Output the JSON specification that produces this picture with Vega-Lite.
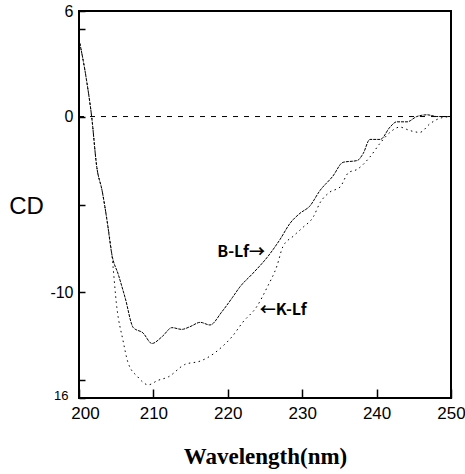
{
  "$schema": "https://vega.github.io/schema/vega-lite/v6.json",
  "autosize": "none",
  "width": 372,
  "height": 387,
  "padding": {"left": 79, "top": 11, "right": 14, "bottom": 76},
  "background": "white",
  "config": {"view": {"stroke": "black", "strokeWidth": 2}},
  "datasets": {
    "curves": [
      {"wl": 200.0, "cd": 4.4, "s": "B-Lf"}, {"wl": 201.0, "cd": 2.1, "s": "B-Lf"}, {"wl": 201.7, "cd": 0.0, "s": "B-Lf"},
      {"wl": 202.4, "cd": -2.9, "s": "B-Lf"}, {"wl": 203.1, "cd": -4.2, "s": "B-Lf"}, {"wl": 203.8, "cd": -6.0, "s": "B-Lf"},
      {"wl": 204.4, "cd": -7.8, "s": "B-Lf"}, {"wl": 205.3, "cd": -9.0, "s": "B-Lf"}, {"wl": 206.2, "cd": -10.3, "s": "B-Lf"},
      {"wl": 207.3, "cd": -12.0, "s": "B-Lf"}, {"wl": 208.6, "cd": -12.3, "s": "B-Lf"}, {"wl": 209.8, "cd": -12.9, "s": "B-Lf"},
      {"wl": 211.2, "cd": -12.5, "s": "B-Lf"}, {"wl": 212.5, "cd": -12.0, "s": "B-Lf"}, {"wl": 213.8, "cd": -12.1, "s": "B-Lf"},
      {"wl": 214.9, "cd": -11.95, "s": "B-Lf"}, {"wl": 216.3, "cd": -11.7, "s": "B-Lf"}, {"wl": 217.6, "cd": -11.85, "s": "B-Lf"},
      {"wl": 219.2, "cd": -11.1, "s": "B-Lf"}, {"wl": 220.6, "cd": -10.3, "s": "B-Lf"}, {"wl": 221.6, "cd": -9.7, "s": "B-Lf"},
      {"wl": 223.4, "cd": -8.9, "s": "B-Lf"}, {"wl": 225.3, "cd": -8.0, "s": "B-Lf"}, {"wl": 227.0, "cd": -7.0, "s": "B-Lf"},
      {"wl": 228.4, "cd": -6.05, "s": "B-Lf"}, {"wl": 229.7, "cd": -5.5, "s": "B-Lf"}, {"wl": 231.0, "cd": -5.1, "s": "B-Lf"},
      {"wl": 232.4, "cd": -4.2, "s": "B-Lf"}, {"wl": 234.1, "cd": -3.4, "s": "B-Lf"}, {"wl": 235.5, "cd": -2.6, "s": "B-Lf"},
      {"wl": 237.4, "cd": -2.5, "s": "B-Lf"}, {"wl": 238.2, "cd": -2.1, "s": "B-Lf"}, {"wl": 239.1, "cd": -1.3, "s": "B-Lf"},
      {"wl": 240.5, "cd": -1.3, "s": "B-Lf"}, {"wl": 241.8, "cd": -0.6, "s": "B-Lf"}, {"wl": 242.7, "cd": -0.3, "s": "B-Lf"},
      {"wl": 244.1, "cd": -0.3, "s": "B-Lf"}, {"wl": 245.4, "cd": 0.0, "s": "B-Lf"}, {"wl": 246.8, "cd": 0.1, "s": "B-Lf"},
      {"wl": 248.1, "cd": 0.0, "s": "B-Lf"}, {"wl": 250.0, "cd": 0.0, "s": "B-Lf"},
      {"wl": 200.0, "cd": 4.4, "s": "K-Lf"}, {"wl": 201.0, "cd": 2.1, "s": "K-Lf"}, {"wl": 201.7, "cd": 0.0, "s": "K-Lf"},
      {"wl": 202.4, "cd": -2.9, "s": "K-Lf"}, {"wl": 203.1, "cd": -4.2, "s": "K-Lf"}, {"wl": 203.8, "cd": -6.0, "s": "K-Lf"},
      {"wl": 204.4, "cd": -7.8, "s": "K-Lf"}, {"wl": 205.1, "cd": -10.9, "s": "K-Lf"}, {"wl": 205.9, "cd": -12.7, "s": "K-Lf"},
      {"wl": 206.6, "cd": -14.0, "s": "K-Lf"}, {"wl": 207.9, "cd": -14.8, "s": "K-Lf"}, {"wl": 209.3, "cd": -15.25, "s": "K-Lf"},
      {"wl": 210.6, "cd": -15.0, "s": "K-Lf"}, {"wl": 212.0, "cd": -14.8, "s": "K-Lf"}, {"wl": 214.2, "cd": -14.1, "s": "K-Lf"},
      {"wl": 216.3, "cd": -13.9, "s": "K-Lf"}, {"wl": 217.3, "cd": -13.7, "s": "K-Lf"}, {"wl": 219.2, "cd": -13.1, "s": "K-Lf"},
      {"wl": 220.6, "cd": -12.5, "s": "K-Lf"}, {"wl": 222.0, "cd": -11.7, "s": "K-Lf"}, {"wl": 223.9, "cd": -10.8, "s": "K-Lf"},
      {"wl": 225.3, "cd": -9.7, "s": "K-Lf"}, {"wl": 226.6, "cd": -8.5, "s": "K-Lf"}, {"wl": 227.4, "cd": -7.4, "s": "K-Lf"},
      {"wl": 228.8, "cd": -6.8, "s": "K-Lf"}, {"wl": 230.1, "cd": -6.3, "s": "K-Lf"}, {"wl": 231.5, "cd": -5.7, "s": "K-Lf"},
      {"wl": 232.4, "cd": -4.9, "s": "K-Lf"}, {"wl": 233.7, "cd": -4.3, "s": "K-Lf"}, {"wl": 235.1, "cd": -4.0, "s": "K-Lf"},
      {"wl": 236.2, "cd": -3.2, "s": "K-Lf"}, {"wl": 237.4, "cd": -3.0, "s": "K-Lf"}, {"wl": 239.1, "cd": -2.3, "s": "K-Lf"},
      {"wl": 240.5, "cd": -1.5, "s": "K-Lf"}, {"wl": 241.8, "cd": -0.9, "s": "K-Lf"}, {"wl": 243.1, "cd": -0.6, "s": "K-Lf"},
      {"wl": 244.5, "cd": -0.8, "s": "K-Lf"}, {"wl": 245.8, "cd": -0.9, "s": "K-Lf"}, {"wl": 247.2, "cd": -0.4, "s": "K-Lf"},
      {"wl": 248.5, "cd": -0.1, "s": "K-Lf"}, {"wl": 250.0, "cd": 0.0, "s": "K-Lf"}
    ],
    "zero": [{"wl": 200, "wl2": 250, "cd": 0}],
    "labels": [
      {"wl": 225.0, "cd": -7.7, "t": "B-Lf→", "a": "right"},
      {"wl": 224.3, "cd": -11.0, "t": "←K-Lf", "a": "left"}
    ]
  },
  "layer": [
    {
      "data": {"name": "zero"},
      "mark": {"type": "rule", "strokeDash": [5, 6], "color": "black", "strokeWidth": 1},
      "encoding": {
        "x": {"field": "wl", "type": "quantitative"},
        "x2": {"field": "wl2"},
        "y": {"field": "cd", "type": "quantitative"}
      }
    },
    {
      "data": {"name": "curves"},
      "mark": {"type": "line", "color": "black", "strokeWidth": 1, "interpolate": "monotone"},
      "encoding": {
        "x": {
          "field": "wl", "type": "quantitative",
          "scale": {"domain": [200, 250], "nice": false, "zero": false},
          "axis": {
            "title": "Wavelength(nm)", "titleFont": "Liberation Serif", "titleFontSize": 23, "titleFontWeight": "bold",
            "titleColor": "black", "titlePadding": 24,
            "values": [200, 210, 220, 230, 240, 250], "domain": false, "grid": false,
            "tickSize": -9, "tickColor": "black", "tickWidth": 1.5,
            "labelFont": "Liberation Sans", "labelFontSize": 17, "labelColor": "black", "labelPadding": 16,
            "labelOffset": {"condition": {"test": "datum.value == 200", "value": 6}, "value": 0},
            "labelFlush": false
          }
        },
        "y": {
          "field": "cd", "type": "quantitative",
          "scale": {"domain": [-16, 6], "nice": false, "zero": false},
          "axis": {
            "title": "CD", "titleAngle": 0, "titleFont": "Liberation Sans", "titleFontSize": 24, "titleFontWeight": "normal",
            "titleColor": "black", "titleX": -53, "titleY": 195, "titleAlign": "center", "titleBaseline": "middle",
            "values": [6, 5, 0, -5, -10, -15, -16], "domain": false, "grid": false,
            "tickSize": -6, "tickColor": "black", "tickWidth": 1.5,
            "labelExpr": "datum.value == 6 ? '6' : datum.value == 0 ? '0' : datum.value == -10 ? '-10' : datum.value == -16 ? '16' : ''",
            "labelFont": "Liberation Sans", "labelColor": "black",
            "labelFontSize": {"condition": {"test": "datum.value == -16", "value": 13}, "value": 16},
            "labelPadding": {"condition": {"test": "datum.value == -16", "value": 17}, "value": 12},
            "labelOffset": {"condition": {"test": "datum.value == -16", "value": -3}, "value": 0},
            "labelFlush": false
          }
        },
        "detail": {"field": "s"},
        "strokeDash": {
          "field": "s", "type": "nominal",
          "scale": {"domain": ["B-Lf", "K-Lf"], "range": [[3, 1], [1.5, 3.5]]},
          "legend": null
        }
      }
    },
    {
      "data": {"name": "labels"},
      "transform": [{"filter": "datum.a == 'right'"}],
      "mark": {"type": "text", "align": "right", "font": "Noto Sans CJK JP", "fontSize": 16, "fontWeight": "bold", "color": "black", "baseline": "middle"},
      "encoding": {
        "x": {"field": "wl", "type": "quantitative"},
        "y": {"field": "cd", "type": "quantitative"},
        "text": {"field": "t"}
      }
    },
    {
      "data": {"name": "labels"},
      "transform": [{"filter": "datum.a == 'left'"}],
      "mark": {"type": "text", "align": "left", "font": "Noto Sans CJK JP", "fontSize": 16, "fontWeight": "bold", "color": "black", "baseline": "middle"},
      "encoding": {
        "x": {"field": "wl", "type": "quantitative"},
        "y": {"field": "cd", "type": "quantitative"},
        "text": {"field": "t"}
      }
    }
  ]
}
